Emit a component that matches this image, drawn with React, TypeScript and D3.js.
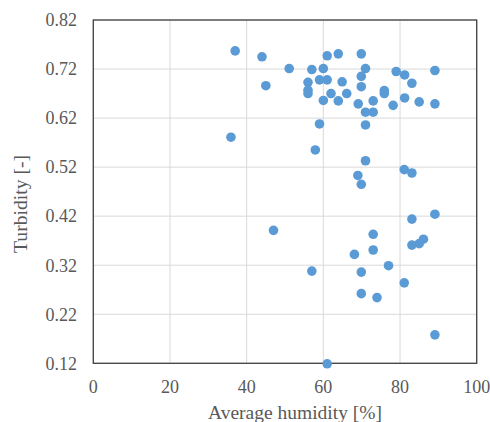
import React from "react";
import * as d3 from "d3";

const humidity = [
  37.0, 44.0, 51.1, 45.0, 57.0, 60.0, 61.0, 63.9, 69.9, 71.0,
  56.0, 56.0, 56.0, 59.0, 61.0, 64.9, 62.0, 66.1, 60.0, 63.9,
  69.9, 69.9, 69.1, 73.0, 71.0, 73.0, 75.9, 75.9, 79.0, 81.2,
  83.1, 78.2, 81.2, 85.0, 89.1, 89.1, 59.0, 71.0, 35.9, 57.9,
  71.0, 81.1, 83.1, 69.0, 69.9, 89.1, 83.1, 47.0, 73.0, 83.1,
  85.0, 86.1, 73.0, 68.1, 57.0, 69.9, 77.0, 81.1, 69.9, 74.0,
  89.1, 61.0,
];
const turbidity = [
  0.757, 0.745, 0.721, 0.686, 0.719, 0.721, 0.747, 0.751, 0.751, 0.721,
  0.693, 0.677, 0.670, 0.698, 0.698, 0.694, 0.670, 0.670, 0.656, 0.655,
  0.705, 0.684, 0.649, 0.655, 0.632, 0.632, 0.676, 0.670, 0.715, 0.708,
  0.691, 0.646, 0.661, 0.653, 0.717, 0.649, 0.608, 0.606, 0.581, 0.555,
  0.533, 0.515, 0.508, 0.503, 0.485, 0.424, 0.414, 0.391, 0.383, 0.361,
  0.364, 0.373, 0.351, 0.342, 0.308, 0.306, 0.319, 0.284, 0.262, 0.254,
  0.178, 0.119,
];
const xTicks = [0, 20, 40, 60, 80, 100];
const yTicks = [0.12, 0.22, 0.32, 0.42, 0.52, 0.62, 0.72, 0.82];

const xTitle = "Average humidity [%]";
const yTitle = "Turbidity [-]";

export default function App() {
  const W = 490, H = 422;
  const left = 93.3, right = 476.7, top = 20, bottom = 363.3;
  const x = d3.scaleLinear().domain([0, 100]).range([left, right]);
  const y = d3.scaleLinear().domain([0.12, 0.82]).range([bottom, top]);
  const font = "Liberation Serif";
  const textColor = "#595959";
  const points = humidity.map((h, i) => ({ h, t: turbidity[i] }));
  return (
    <svg width={W} height={H} style={{ position: "absolute", left: 0, top: 0 }}>
      <rect x={0} y={0} width={W} height={H} fill="#fff" />
      {xTicks.map((v) => (
        <line key={"gx" + v} x1={x(v)} x2={x(v)} y1={top} y2={bottom} stroke="#D9D9D9" strokeWidth={1} />
      ))}
      {yTicks.map((v) => (
        <line key={"gy" + v} x1={left} x2={right} y1={y(v)} y2={y(v)} stroke="#D9D9D9" strokeWidth={1} />
      ))}
      <rect x={left} y={top} width={right - left} height={bottom - top} fill="none" stroke="#404040" strokeWidth={1.3} />
      {points.map((p, i) => (
        <circle key={i} cx={x(p.h)} cy={y(p.t)} r={4.8} fill="#5B9BD5" />
      ))}
      {yTicks.map((v) => (
        <text key={"ty" + v} x={77} y={y(v)} dy="0.35em" textAnchor="end" fontFamily={font} fontSize={18} fill={textColor}>
          {d3.format(".2f")(v)}
        </text>
      ))}
      {xTicks.map((v) => (
        <text key={"tx" + v} x={x(v)} y={392.5} textAnchor="middle" fontFamily={font} fontSize={18} fill={textColor}>
          {v}
        </text>
      ))}
      <text x={295} y={419} textAnchor="middle" fontFamily={font} fontSize={19.5} fill={textColor}>
        {xTitle}
      </text>
      <text transform={`translate(27,204) rotate(-90)`} textAnchor="middle" fontFamily={font} fontSize={19.5} fill={textColor} textLength={98} lengthAdjust="spacingAndGlyphs">
        {yTitle}
      </text>
    </svg>
  );
}
